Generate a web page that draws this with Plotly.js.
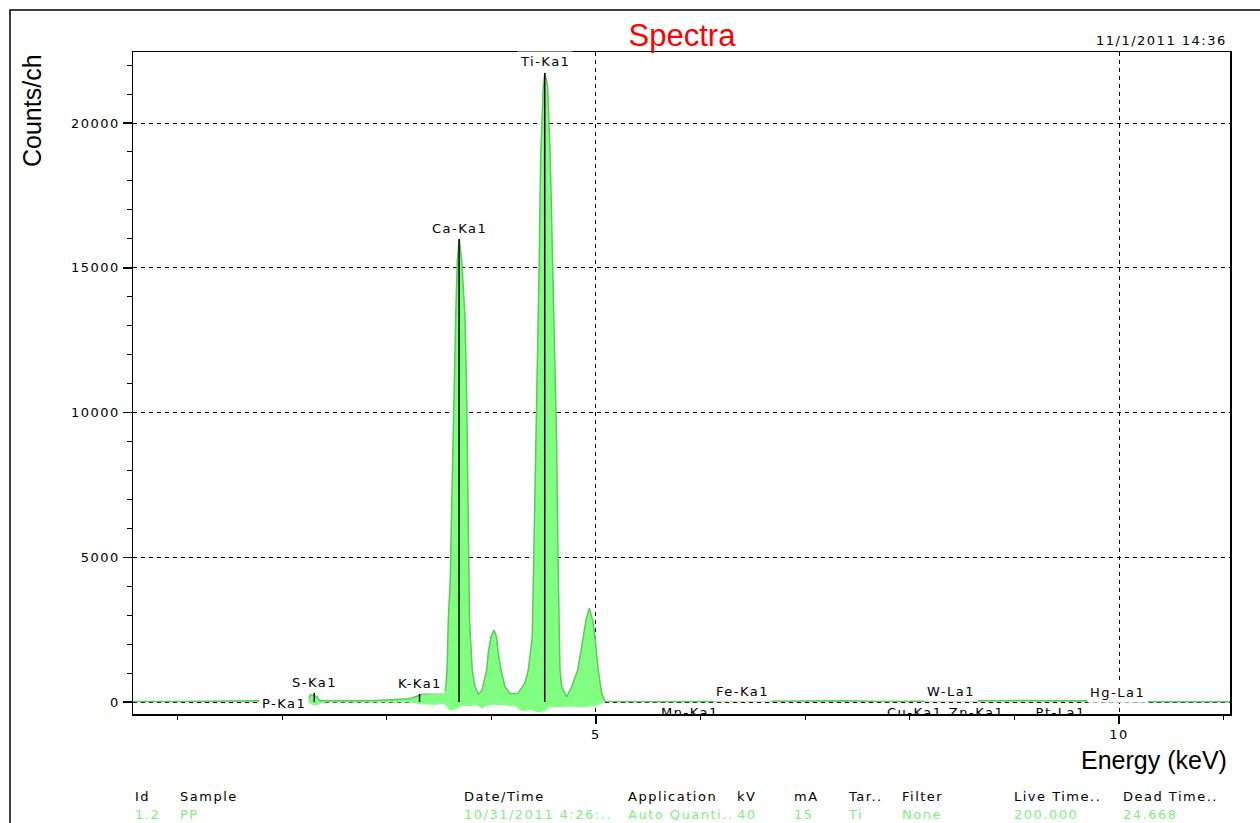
<!DOCTYPE html>
<html>
<head>
<meta charset="utf-8">
<script src="https://cdn.plot.ly/plotly-3.0.1.min.js"></script>
<style>
  html, body { margin: 0; padding: 0; background: #fff; }
  #chart { width: 1260px; height: 823px; }
  /* instrument-style spaced lettering for the small texts */
  text[style*="DejaVu"] { letter-spacing: 1.5px; }
</style>
</head>
<body>
<div id="chart"></div>
<script>
// XRF spectrum: energy (keV) and counts per channel
const energy = [
  0.574, 0.832, 1.052, 1.214, 1.501, 1.769, 2.017, 2.218, 2.256, 2.270, 2.304, 2.333, 2.361,
  2.457, 2.715, 2.887, 3.031, 3.174, 3.241, 3.298, 3.337, 3.413, 3.537,
  3.563, 3.576, 3.588, 3.607, 3.620, 3.640, 3.659, 3.674, 3.693, 3.716, 3.748, 3.764, 3.774,
  3.783, 3.791, 3.817, 3.843, 3.875,
  3.910, 3.955, 3.970, 3.996, 4.025, 4.049, 4.066, 4.092, 4.130, 4.178, 4.254,
  4.321, 4.353, 4.391, 4.410, 4.426, 4.443, 4.458, 4.471, 4.496, 4.512, 4.538, 4.563, 4.586,
  4.601, 4.624, 4.637, 4.646, 4.656, 4.672, 4.720,
  4.768, 4.825, 4.879, 4.904, 4.936, 4.968, 4.990, 5.022, 5.054, 5.086,
  5.593, 6.185, 6.692, 7.380, 7.744, 8.920, 9.130, 9.360, 9.685, 9.742, 11.061
];
const counts = [
  15, 10, 15, 30, 35, 45, 40, 50, 120, 250, 230, 180, 40,
  35, 40, 55, 70, 100, 140, 220, 270, 290, 310,
  450, 1100, 2830, 4210, 6735, 10600, 13300, 15270, 15990, 15270, 13300, 10600, 6735,
  4210, 2830, 1105, 530, 276,
  400, 1105, 1690, 2250, 2490, 2250, 1690, 1105, 530, 290, 300,
  656, 1105, 2256, 5710, 8946, 12272, 15381, 18835, 21253, 21730, 21253, 18835, 15381,
  12272, 8946, 5000, 2256, 1105, 530, 183,
  530, 1105, 2256, 2830, 3236, 2830, 2256, 1105, 300, 15,
  10, 20, 40, 40, 15, 60, 55, 45, 45, 10, 10
];

// negative residual below the baseline
const residualEnergy = [
  2.256, 2.294, 2.342, 2.390, 3.241, 3.317, 3.461, 3.537, 3.576, 3.604, 3.652, 3.681, 3.719,
  3.796, 3.853, 3.910, 3.948, 4.034, 4.130, 4.226, 4.293, 4.369, 4.445, 4.512, 4.560,
  4.656, 4.751, 4.847, 4.943, 5.019, 5.057
];
const residualCounts = [
  0, -100, -80, 0, 0, -60, -80, -40, -150, -276, -250, -200, -100,
  -120, -80, -207, -120, -80, -100, -130, -300, -250, -334, -300, -150,
  -160, -130, -160, -140, -100, 0
];

// identified element lines: name, energy (keV), marker height (counts)
const lineNames  = ['P-Ka1', 'S-Ka1', 'K-Ka1', 'Ca-Ka1', 'Ti-Ka1', 'Mn-Ka1', 'Fe-Ka1', 'Cu-Ka1', 'W-La1', 'Zn-Ka1', 'Pt-La1', 'Hg-La1'];
const lineEnergy = [2.013, 2.307, 3.313, 3.691, 4.510, 5.898, 6.403, 8.047, 8.397, 8.638, 9.442, 9.988];
const lineCounts = [-414, 311, 276, 15990, 21730, -640, 0, -640, 0, -640, -640, -35];

// measurement info table
const tableHeaders = ['Id', 'Sample', 'Date/Time', 'Application', 'kV', 'mA', 'Tar..', 'Filter', 'Live Time..', 'Dead Time..'];
const tableValues  = ['1.2', 'PP', '10/31/2011 4:26:..', 'Auto Quanti..', '40', '15', 'Ti', 'None', '200.000', '24.668'];

const chartTitle = 'Spectra';
const stamp = '11/1/2011 14:36';
const xTitle = 'Energy (keV)';
const yTitle = 'Counts/ch';

// ---- layout constants ----
const W = 1260, H = 823;
const M = { l: 133, r: 30, t: 52, b: 109 };
const PW = W - M.l - M.r, PH = H - M.t - M.b;
const X_RANGE = [0.574, 11.061];
const Y_RANGE = [-414, 22453];
const tableColumnPx = [133, 178, 462, 626, 735, 792, 846, 900, 1012, 1121];
const px2paperX = px => (px - M.l) / PW;
const px2paperY = py => (H - M.b - py) / PH;

const smallFont = { family: 'DejaVu Sans', size: 13, color: '#000' };
const bigFont = { family: 'Liberation Sans, Arial, sans-serif', size: 25, color: '#000' };
const fillGreen = '#80ff80';
const edgeGreen = '#5ec85e';

// marker lines (vertical segments from 0 up to each positive marker height)
const mx = [], my = [];
lineEnergy.forEach((e, i) => {
  if (lineCounts[i] > 0) { mx.push(e, e, null); my.push(0, lineCounts[i], null); }
});

const annotations = [];
const hidden = { x: [], y: [], text: [] };
lineNames.forEach((name, i) => {
  if (lineCounts[i] < Y_RANGE[0]) {
    hidden.x.push(lineEnergy[i]); hidden.y.push(lineCounts[i]); hidden.text.push(name);
  } else {
    annotations.push({
      x: lineEnergy[i], y: lineCounts[i], xref: 'x', yref: 'y',
      text: name, showarrow: false, xanchor: 'center', yanchor: 'middle', yshift: 11,
      bgcolor: '#fff', borderpad: 2, font: smallFont
    });
  }
});

// axis titles and time stamp
annotations.push({
  text: yTitle, xref: 'paper', yref: 'paper', x: px2paperX(32), y: px2paperY(111),
  xanchor: 'center', yanchor: 'middle', textangle: -90, showarrow: false, font: bigFont
});
annotations.push({
  text: xTitle, xref: 'paper', yref: 'paper', x: px2paperX(1229), y: px2paperY(760),
  xanchor: 'right', yanchor: 'middle', showarrow: false, font: bigFont
});
annotations.push({
  text: stamp, xref: 'paper', yref: 'paper', x: px2paperX(1229), y: px2paperY(41),
  xanchor: 'right', yanchor: 'middle', showarrow: false, font: smallFont
});

// info table rows
tableHeaders.forEach((h, i) => {
  annotations.push({
    text: h, xref: 'paper', yref: 'paper', x: px2paperX(tableColumnPx[i]), y: px2paperY(796),
    xanchor: 'left', yanchor: 'middle', showarrow: false, font: smallFont
  });
  annotations.push({
    text: tableValues[i], xref: 'paper', yref: 'paper', x: px2paperX(tableColumnPx[i]), y: px2paperY(815),
    xanchor: 'left', yanchor: 'middle', showarrow: false,
    font: Object.assign({}, smallFont, { color: '#80ee80' })
  });
});

const traces = [
  {
    x: residualEnergy, y: residualCounts, type: 'scatter', mode: 'lines',
    fill: 'tozeroy', fillcolor: fillGreen, line: { color: fillGreen, width: 1 },
    hoverinfo: 'skip', showlegend: false
  },
  {
    x: energy, y: counts, type: 'scatter', mode: 'lines',
    fill: 'tozeroy', fillcolor: fillGreen, line: { color: edgeGreen, width: 1.5 },
    hoverinfo: 'skip', showlegend: false
  },
  {
    x: mx, y: my, type: 'scatter', mode: 'lines',
    line: { color: '#000', width: 1.5 }, hoverinfo: 'skip', showlegend: false
  },
  {
    x: hidden.x, y: hidden.y, text: hidden.text, type: 'scatter', mode: 'text',
    textposition: 'top center', textfont: smallFont, cliponaxis: true,
    hoverinfo: 'skip', showlegend: false
  }
];

const axisCommon = {
  showline: true, linecolor: '#000', linewidth: 1.5, mirror: true,
  ticks: 'outside', tickcolor: '#000', tickwidth: 1.5,
  showgrid: true, gridcolor: '#000', gridwidth: 1, griddash: '4px,4px',
  zeroline: false, tickfont: smallFont, tickformat: 'd', fixedrange: true
};

const layout = {
  width: W, height: H,
  margin: M,
  paper_bgcolor: '#fff', plot_bgcolor: '#fff',
  showlegend: false,
  title: {
    text: chartTitle, xref: 'container', yref: 'container',
    x: 682 / W, xanchor: 'center', y: 1 - 35 / H, yanchor: 'middle',
    font: { family: 'Liberation Sans, Arial, sans-serif', size: 31, color: '#ff0000' }
  },
  xaxis: Object.assign({}, axisCommon, {
    range: X_RANGE, tick0: 0, dtick: 5, ticklen: 8,
    minor: { tick0: 0, dtick: 1, ticks: 'outside', ticklen: 4, tickwidth: 1, tickcolor: '#000', showgrid: false }
  }),
  yaxis: Object.assign({}, axisCommon, {
    range: Y_RANGE, tick0: 0, dtick: 5000, ticklen: 9,
    minor: { tick0: 0, dtick: 1000, ticks: 'outside', ticklen: 5, tickwidth: 1, tickcolor: '#000', showgrid: false }
  }),
  annotations: annotations,
  shapes: [{
    type: 'rect', xref: 'paper', yref: 'paper',
    x0: px2paperX(10), x1: px2paperX(1275), y0: px2paperY(840), y1: px2paperY(10),
    line: { color: '#000', width: 1.5 }, fillcolor: 'rgba(0,0,0,0)', layer: 'above'
  }]
};

Plotly.newPlot('chart', traces, layout, { displayModeBar: false, staticPlot: true });
</script>
</body>
</html>
